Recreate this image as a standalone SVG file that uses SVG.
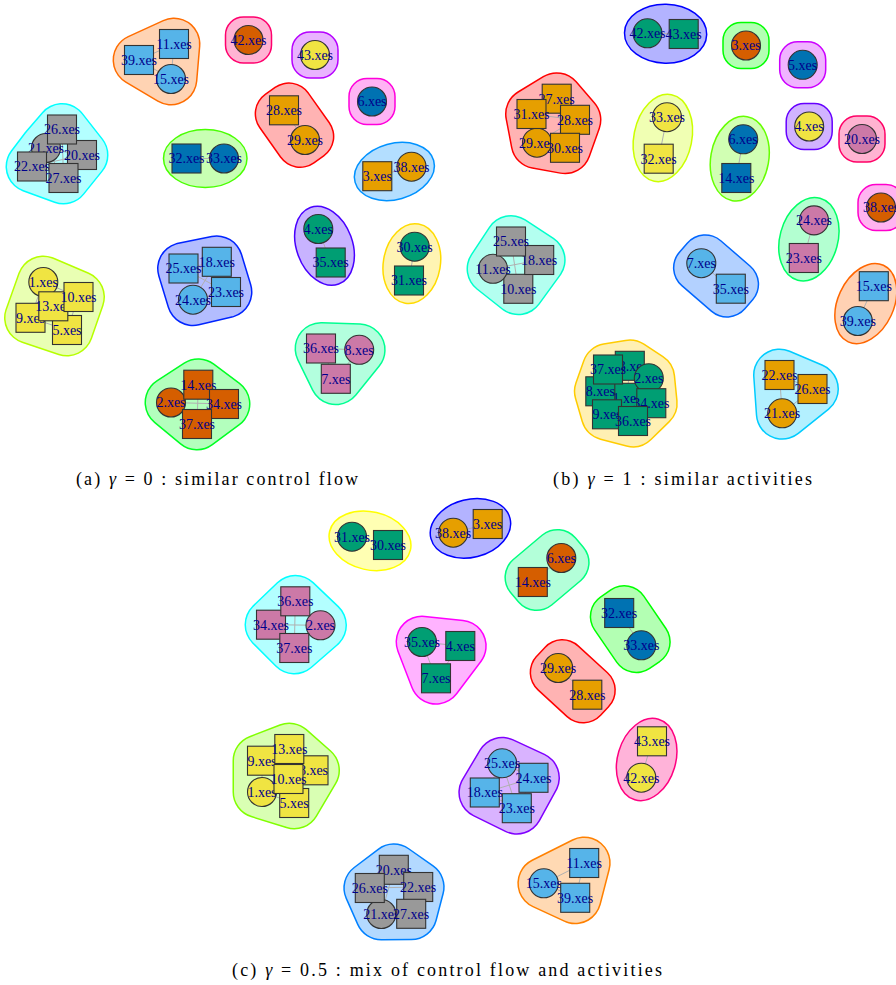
<svg xmlns="http://www.w3.org/2000/svg" width="896" height="985" viewBox="0 0 896 985">
<style>
.hb{stroke-linejoin:round;fill:currentColor;stroke:currentColor}
.w3b{stroke-width:53}.w3f{stroke-width:50}
.w2b{stroke-width:49}.w2f{stroke-width:46}
.h1{stroke-width:1.5}
.sg{stroke-width:1.5;rx:18px;ry:18px}
#connectors line{stroke:#b0b0b0;stroke-width:1}
.node rect,.node circle{stroke:#333;stroke-width:1.1}
.node text{font-family:"Liberation Serif",serif;font-size:14px;fill:#00008B;text-anchor:middle}
.sb{fill:#56B4E9}.or{fill:#E69F00}.gn{fill:#009E73}.ye{fill:#F0E442}.bl{fill:#0072B2}.vm{fill:#D55E00}.rp{fill:#CC79A7}.gy{fill:#999999}
.cap{font-family:"Liberation Serif",serif;font-size:18px;fill:#000}
</style>
<rect width="896" height="985" fill="#fff"/>
<g id="hulls">
<!-- panel a -->
<g id="a-h1"><polygon class="hb w3b" color="#FF6D00" points="139,60 174,44 171,79"/><polygon class="hb w3f" color="#FFD3B3" points="139,60 174,44 171,79"/></g>
<rect id="a-h2" class="sg" x="225.5" y="17" width="46" height="46" rx="18" fill="#FFB3D3" stroke="#FF006D"/>
<rect id="a-h3" class="sg" x="292" y="32" width="46" height="46" rx="18" fill="#E9B3FF" stroke="#B600FF"/>
<g id="a-h4"><polygon class="hb w3b" color="#00FFFF" points="62,129.5 82,155 63.5,178 32,166.5 46,148"/><polygon class="hb w3f" color="#B3FFFF" points="62,129.5 82,155 63.5,178 32,166.5 46,148"/></g>
<ellipse id="a-h5" class="h1" cx="205.25" cy="158.5" rx="41.75" ry="29" fill="#C8FFB3" stroke="#49FF00"/>
<g id="a-h6"><polygon class="hb w2b" color="#FF0000" points="288.9,106.8 309.9,136.5 300.1,143.5 279.1,113.8"/><polygon class="hb w2f" color="#FFB3B3" points="288.9,106.8 309.9,136.5 300.1,143.5 279.1,113.8"/></g>
<rect id="a-h7" class="sg" x="349" y="78.5" width="46" height="46" rx="18" fill="#FFB3F4" stroke="#FF00DB"/>
<ellipse id="a-h8" class="h1" cx="394.4" cy="171.45" rx="40.75" ry="28" transform="rotate(-15.5 394.4 171.45)" fill="#B3DEFF" stroke="#0092FF"/>
<g id="a-h9"><polygon class="hb w3b" color="#B6FF00" points="43.3,282 78.5,297 67,330 30.5,317.8"/><polygon class="hb w3f" color="#E9FFB3" points="43.3,282 78.5,297 67,330 30.5,317.8"/></g>
<g id="a-h10"><polygon class="hb w3b" color="#0024FF" points="183.5,268.5 216.8,261.8 226,292 193,299.7"/><polygon class="hb w3f" color="#B3BDFF" points="183.5,268.5 216.8,261.8 226,292 193,299.7"/></g>
<ellipse id="a-h11" class="h1" cx="324.5" cy="245.75" rx="40.85" ry="28" transform="rotate(69.7 324.5 245.75)" fill="#C8B3FF" stroke="#4900FF"/>
<ellipse id="a-h12" class="h1" cx="411.85" cy="263.6" rx="40.15" ry="28.5" transform="rotate(99.6 411.85 263.6)" fill="#FFF4B3" stroke="#FFDB00"/>
<g id="a-h13"><polygon class="hb w3b" color="#00FF24" points="198.3,384.7 224,404 197,424 171,402.5"/><polygon class="hb w3f" color="#B3FFBD" points="198.3,384.7 224,404 197,424 171,402.5"/></g>
<g id="a-h14"><polygon class="hb w3b" color="#00FF92" points="321,348.5 359.2,349.8 335.8,378.8"/><polygon class="hb w3f" color="#B3FFDE" points="321,348.5 359.2,349.8 335.8,378.8"/></g>
<!-- panel b -->
<ellipse id="b-h1" class="h1" cx="665.6" cy="33.65" rx="41.1" ry="29.5" transform="rotate(1.1 665.6 33.65)" fill="#B3B3FF" stroke="#0000FF"/>
<rect id="b-h2" class="sg" x="723" y="22.5" width="46" height="46" rx="18" fill="#B3FFB3" stroke="#00FF00"/>
<rect id="b-h3" class="sg" x="779.7" y="41.8" width="46" height="46" rx="18" fill="#F0B3FF" stroke="#CC00FF"/>
<g id="b-h4"><polygon class="hb w3b" color="#FF0000" points="556.7,98.7 575,119.8 565,147.8 537,142.7 531.5,114"/><polygon class="hb w3f" color="#FFB3B3" points="556.7,98.7 575,119.8 565,147.8 537,142.7 531.5,114"/></g>
<ellipse id="b-h5" class="h1" cx="662.85" cy="137.95" rx="44.15" ry="29" transform="rotate(101.3 662.85 137.95)" fill="#F0FFB3" stroke="#CCFF00"/>
<ellipse id="b-h6" class="h1" cx="739.75" cy="158.65" rx="42.65" ry="29" transform="rotate(100.1 739.75 158.65)" fill="#D1FFB3" stroke="#66FF00"/>
<rect id="b-h7" class="sg" x="786.2" y="103.5" width="46" height="46" rx="18" fill="#D1B3FF" stroke="#6600FF"/>
<rect id="b-h8" class="sg" x="839" y="116" width="46" height="46" rx="18" fill="#FFB3D1" stroke="#FF0066"/>
<rect id="b-h9" class="sg" x="858" y="184.5" width="46" height="46" rx="18" fill="#FFB3F0" stroke="#FF00CC"/>
<ellipse id="b-h10" class="h1" cx="808.9" cy="239.2" rx="42.5" ry="29" transform="rotate(105.2 808.9 239.2)" fill="#B3FFD1" stroke="#00FF66"/>
<g id="b-h11"><polygon class="hb w3b" color="#00FFCC" points="511,241.5 539.2,260 518.3,288.8 493,268.8"/><polygon class="hb w3f" color="#B3FFF0" points="511,241.5 539.2,260 518.3,288.8 493,268.8"/></g>
<g id="b-h12"><polygon class="hb w2b" color="#0066FF" points="705.2,258.7 734.7,284.2 726.9,293.2 697.4,267.7"/><polygon class="hb w2f" color="#B3D1FF" points="705.2,258.7 734.7,284.2 726.9,293.2 697.4,267.7"/></g>
<ellipse id="b-h13" class="h1" cx="865.8" cy="303.6" rx="42.15" ry="28" transform="rotate(114.7 865.8 303.6)" fill="#FFD1B3" stroke="#FF6600"/>
<g id="b-h14"><polygon class="hb w3b" color="#FFCC00" points="608,369.5 629.8,365.8 648.8,378.2 651.3,403.2 633,421 607,414.3 600.3,391.3"/><polygon class="hb w3f" color="#FFF0B3" points="608,369.5 629.8,365.8 648.8,378.2 651.3,403.2 633,421 607,414.3 600.3,391.3"/></g>
<g id="b-h15"><polygon class="hb w3b" color="#00CCFF" points="779.5,375 812.5,389 782.2,413.3"/><polygon class="hb w3f" color="#B3F0FF" points="779.5,375 812.5,389 782.2,413.3"/></g>
<!-- panel c -->
<ellipse id="c-h1" class="h1" cx="370" cy="540.85" rx="41.45" ry="29" transform="rotate(13 370 540.85)" fill="#FFFFB3" stroke="#FFFF00"/>
<ellipse id="c-h2" class="h1" cx="470.45" cy="528.35" rx="40.8" ry="29" transform="rotate(-14.2 470.45 528.35)" fill="#B3B3FF" stroke="#0000FF"/>
<g id="c-h3"><polygon class="hb w2b" color="#00FF80" points="565.2,562.6 536.7,586.6 528.9,577.4 557.4,553.4"/><polygon class="hb w2f" color="#B3FFD9" points="565.2,562.6 536.7,586.6 528.9,577.4 557.4,553.4"/></g>
<g id="c-h4"><polygon class="hb w2b" color="#00FF00" points="624.2,609.6 646.3,641.9 636.3,648.7 614.2,616.4"/><polygon class="hb w2f" color="#B3FFB3" points="624.2,609.6 646.3,641.9 636.3,648.7 614.2,616.4"/></g>
<g id="c-h5"><polygon class="hb w3b" color="#00FFFF" points="295.3,601.3 320.5,625.3 294.3,648 271,624.7"/><polygon class="hb w3f" color="#B3FFFF" points="295.3,601.3 320.5,625.3 294.3,648 271,624.7"/></g>
<g id="c-h6"><polygon class="hb w3b" color="#FF00FF" points="422,642 460.3,646 436,678.3"/><polygon class="hb w3f" color="#FFB3FF" points="422,642 460.3,646 436,678.3"/></g>
<g id="c-h7"><polygon class="hb w2b" color="#FF0000" points="562.3,663.6 591.4,690.3 583.2,699.1 554.1,672.4"/><polygon class="hb w2f" color="#FFB3B3" points="562.3,663.6 591.4,690.3 583.2,699.1 554.1,672.4"/></g>
<ellipse id="c-h8" class="h1" cx="646.65" cy="759.5" rx="41.95" ry="29" transform="rotate(106.4 646.65 759.5)" fill="#FFB3D9" stroke="#FF0080"/>
<g id="c-h9"><polygon class="hb w3b" color="#80FF00" points="289.3,749 313.5,770.3 294.2,803 259,792 259,760.7"/><polygon class="hb w3f" color="#D9FFB3" points="289.3,749 313.5,770.3 294.2,803 259,792 259,760.7"/></g>
<g id="c-h10"><polygon class="hb w3b" color="#8000FF" points="502.2,763.3 533.5,777.8 516.8,808.2 484.8,792.5"/><polygon class="hb w3f" color="#D9B3FF" points="502.2,763.3 533.5,777.8 516.8,808.2 484.8,792.5"/></g>
<g id="c-h11"><polygon class="hb w3b" color="#0080FF" points="393.8,869.8 418.2,887 411.2,913.8 381.3,914 369.8,888"/><polygon class="hb w3f" color="#B3D9FF" points="393.8,869.8 418.2,887 411.2,913.8 381.3,914 369.8,888"/></g>
<g id="c-h12"><polygon class="hb w3b" color="#FF8000" points="584.2,863 575.2,897.8 543.8,883.3"/><polygon class="hb w3f" color="#FFD9B3" points="584.2,863 575.2,897.8 543.8,883.3"/></g>
</g>
<g id="connectors">
<line x1="139" y1="60" x2="174" y2="44"/><line x1="139" y1="60" x2="171" y2="79"/><line x1="174" y1="44" x2="171" y2="79"/>
<line x1="46" y1="148" x2="82" y2="155"/><line x1="32" y1="166.5" x2="82" y2="155"/><line x1="46" y1="148" x2="63.5" y2="178"/><line x1="62" y1="129.5" x2="63.5" y2="178"/><line x1="62" y1="129.5" x2="32" y2="166.5"/>
<line x1="186.5" y1="158.5" x2="224" y2="158.5"/>
<line x1="284" y1="110.3" x2="305" y2="140"/>
<line x1="377.3" y1="176.2" x2="411.5" y2="166.7"/>
<line x1="43.3" y1="282" x2="78.5" y2="297"/><line x1="30.5" y1="317.8" x2="67" y2="330"/><line x1="78.5" y1="297" x2="67" y2="330"/><line x1="43.3" y1="282" x2="30.5" y2="317.8"/><line x1="53.3" y1="306.3" x2="78.5" y2="297"/><line x1="30.5" y1="317.8" x2="78.5" y2="297"/>
<line x1="183.5" y1="268.5" x2="226" y2="292"/><line x1="216.8" y1="261.8" x2="193" y2="299.7"/><line x1="183.5" y1="268.5" x2="216.8" y2="261.8"/><line x1="193" y1="299.7" x2="226" y2="292"/>
<line x1="318.3" y1="229" x2="330.7" y2="262.5"/>
<line x1="414.7" y1="246.7" x2="409" y2="280.5"/>
<line x1="171" y1="402.5" x2="224" y2="404"/><line x1="198.3" y1="384.7" x2="197" y2="424"/><line x1="171" y1="402.5" x2="198.3" y2="384.7"/><line x1="171" y1="402.5" x2="197" y2="424"/><line x1="224" y1="404" x2="198.3" y2="384.7"/><line x1="224" y1="404" x2="197" y2="424"/>
<line x1="321" y1="348.5" x2="359.2" y2="349.8"/><line x1="321" y1="348.5" x2="335.8" y2="378.8"/><line x1="359.2" y1="349.8" x2="335.8" y2="378.8"/>
<line x1="647.5" y1="33.3" x2="683.7" y2="34"/>
<line x1="531.5" y1="114" x2="575" y2="119.8"/><line x1="537" y1="142.7" x2="575" y2="119.8"/><line x1="556.7" y1="98.7" x2="565" y2="147.8"/><line x1="556.7" y1="98.7" x2="531.5" y2="114"/><line x1="575" y1="119.8" x2="565" y2="147.8"/><line x1="537" y1="142.7" x2="565" y2="147.8"/>
<line x1="667" y1="117.2" x2="658.7" y2="158.7"/>
<line x1="743.2" y1="139.3" x2="736.3" y2="178"/>
<line x1="814" y1="220.4" x2="803.8" y2="258"/>
<line x1="493" y1="268.8" x2="539.2" y2="260"/><line x1="511" y1="241.5" x2="518.3" y2="288.8"/><line x1="511" y1="241.5" x2="493" y2="268.8"/><line x1="511" y1="241.5" x2="539.2" y2="260"/><line x1="493" y1="268.8" x2="518.3" y2="288.8"/><line x1="539.2" y1="260" x2="518.3" y2="288.8"/>
<line x1="701.3" y1="263.2" x2="730.8" y2="288.7"/>
<line x1="873.8" y1="286.2" x2="857.8" y2="321"/>
<line x1="608" y1="369.5" x2="648.8" y2="378.2"/><line x1="629.8" y1="365.8" x2="627" y2="397.8"/><line x1="600.3" y1="391.3" x2="627" y2="397.8"/><line x1="627" y1="397.8" x2="651.3" y2="403.2"/><line x1="607" y1="414.3" x2="633" y2="421"/><line x1="627" y1="397.8" x2="633" y2="421"/>
<line x1="779.5" y1="375" x2="782.2" y2="413.3"/><line x1="812.5" y1="389" x2="782.2" y2="413.3"/><line x1="779.5" y1="375" x2="812.5" y2="389"/>
<line x1="352" y1="536.7" x2="388" y2="545"/>
<line x1="453.2" y1="532.7" x2="487.7" y2="524"/>
<line x1="561.3" y1="558" x2="532.8" y2="582"/>
<line x1="619.2" y1="613" x2="641.3" y2="645.3"/>
<line x1="271" y1="624.7" x2="320.5" y2="625.3"/><line x1="295.3" y1="601.3" x2="294.3" y2="648"/><line x1="295.3" y1="601.3" x2="271" y2="624.7"/><line x1="295.3" y1="601.3" x2="320.5" y2="625.3"/><line x1="271" y1="624.7" x2="294.3" y2="648"/><line x1="320.5" y1="625.3" x2="294.3" y2="648"/>
<line x1="422" y1="642" x2="460.3" y2="646"/><line x1="422" y1="642" x2="436" y2="678.3"/><line x1="460.3" y1="646" x2="436" y2="678.3"/>
<line x1="558.2" y1="668" x2="587.3" y2="694.7"/>
<line x1="652" y1="741.3" x2="641.3" y2="777.7"/>
<line x1="289.3" y1="749" x2="262" y2="760.7"/><line x1="289.3" y1="749" x2="313.5" y2="770.3"/><line x1="262" y1="760.7" x2="288.5" y2="779"/><line x1="313.5" y1="770.3" x2="288.5" y2="779"/><line x1="288.5" y1="779" x2="262" y2="792"/><line x1="288.5" y1="779" x2="294.2" y2="803"/><line x1="262" y1="792" x2="294.2" y2="803"/><line x1="262" y1="760.7" x2="262" y2="792"/>
<line x1="484.8" y1="792.5" x2="533.5" y2="777.8"/><line x1="502.2" y1="763.3" x2="516.8" y2="808.2"/><line x1="502.2" y1="763.3" x2="533.5" y2="777.8"/><line x1="502.2" y1="763.3" x2="484.8" y2="792.5"/><line x1="484.8" y1="792.5" x2="516.8" y2="808.2"/><line x1="533.5" y1="777.8" x2="516.8" y2="808.2"/>
<line x1="369.8" y1="888" x2="418.2" y2="887"/><line x1="393.8" y1="869.8" x2="381.3" y2="914"/><line x1="393.8" y1="869.8" x2="369.8" y2="888"/><line x1="393.8" y1="869.8" x2="418.2" y2="887"/><line x1="369.8" y1="888" x2="381.3" y2="914"/><line x1="418.2" y1="887" x2="411.2" y2="913.8"/><line x1="381.3" y1="914" x2="411.2" y2="913.8"/>
<line x1="543.8" y1="883.3" x2="584.2" y2="863"/><line x1="584.2" y1="863" x2="575.2" y2="897.8"/><line x1="543.8" y1="883.3" x2="575.2" y2="897.8"/>
</g>
<g id="nodes">
<!-- panel a -->
<g id="a-n3" class="node"><rect class="or" x="362.8" y="161.7" width="29" height="29"/><text x="377.3" y="181">3.xes</text></g>
<g id="a-n6" class="node"><circle class="bl" cx="372" cy="101.5" r="14.5"/><text x="372" y="106.3">6.xes</text></g>
<g id="a-n11" class="node"><rect class="sb" x="159.5" y="29.5" width="29" height="29"/><text x="174" y="48.8">11.xes</text></g>
<g id="a-n15" class="node"><circle class="sb" cx="171" cy="79" r="14.5"/><text x="171" y="83.8">15.xes</text></g>
<g id="a-n39" class="node"><rect class="sb" x="124.5" y="45.5" width="29" height="29"/><text x="139" y="64.8">39.xes</text></g>
<g id="a-n38" class="node"><circle class="or" cx="411.5" cy="166.7" r="14.5"/><text x="411.5" y="171.5">38.xes</text></g>
<g id="a-n42" class="node"><circle class="vm" cx="248.5" cy="40" r="14.5"/><text x="248.5" y="44.8">42.xes</text></g>
<g id="a-n43" class="node"><circle class="ye" cx="315" cy="55" r="14.5"/><text x="315" y="59.8">43.xes</text></g>
<g id="a-n20" class="node"><rect class="gy" x="67.5" y="140.5" width="29" height="29"/><text x="82" y="159.8">20.xes</text></g>
<g id="a-n21" class="node"><circle class="gy" cx="46" cy="148" r="14.5"/><text x="46" y="152.8">21.xes</text></g>
<g id="a-n22" class="node"><rect class="gy" x="17.5" y="152" width="29" height="29"/><text x="32" y="171.3">22.xes</text></g>
<g id="a-n26" class="node"><rect class="gy" x="47.5" y="115" width="29" height="29"/><text x="62" y="134.3">26.xes</text></g>
<g id="a-n27" class="node"><rect class="gy" x="49" y="163.5" width="29" height="29"/><text x="63.5" y="182.8">27.xes</text></g>
<g id="a-n32" class="node"><rect class="bl" x="172" y="144" width="29" height="29"/><text x="186.5" y="163.3">32.xes</text></g>
<g id="a-n33" class="node"><circle class="bl" cx="224" cy="158.5" r="14.5"/><text x="224" y="163.3">33.xes</text></g>
<g id="a-n28" class="node"><rect class="or" x="269.5" y="95.8" width="29" height="29"/><text x="284" y="115.1">28.xes</text></g>
<g id="a-n29" class="node"><circle class="or" cx="305" cy="140" r="14.5"/><text x="305" y="144.8">29.xes</text></g>
<g id="a-n1" class="node"><circle class="ye" cx="43.3" cy="282" r="14.5"/><text x="43.3" y="286.8">1.xes</text></g>
<g id="a-n5" class="node"><rect class="ye" x="52.5" y="315.5" width="29" height="29"/><text x="67" y="334.8">5.xes</text></g>
<g id="a-n9" class="node"><rect class="ye" x="16" y="303.3" width="29" height="29"/><text x="30.5" y="322.6">9.xes</text></g>
<g id="a-n13" class="node"><rect class="ye" x="38.8" y="291.8" width="29" height="29"/><text x="53.3" y="311.1">13.xes</text></g>
<g id="a-n10" class="node"><rect class="ye" x="64" y="282.5" width="29" height="29"/><text x="78.5" y="301.8">10.xes</text></g>
<g id="a-n18" class="node"><rect class="sb" x="202.3" y="247.3" width="29" height="29"/><text x="216.8" y="266.6">18.xes</text></g>
<g id="a-n23" class="node"><rect class="sb" x="211.5" y="277.5" width="29" height="29"/><text x="226" y="296.8">23.xes</text></g>
<g id="a-n24" class="node"><circle class="sb" cx="193" cy="299.7" r="14.5"/><text x="193" y="304.5">24.xes</text></g>
<g id="a-n25" class="node"><rect class="sb" x="169" y="254" width="29" height="29"/><text x="183.5" y="273.3">25.xes</text></g>
<g id="a-n4" class="node"><circle class="gn" cx="318.3" cy="229" r="14.5"/><text x="318.3" y="233.8">4.xes</text></g>
<g id="a-n35" class="node"><rect class="gn" x="316.2" y="248" width="29" height="29"/><text x="330.7" y="267.3">35.xes</text></g>
<g id="a-n30" class="node"><circle class="gn" cx="414.7" cy="246.7" r="14.5"/><text x="414.7" y="251.5">30.xes</text></g>
<g id="a-n31" class="node"><rect class="gn" x="394.5" y="266" width="29" height="29"/><text x="409" y="285.3">31.xes</text></g>
<g id="a-n2" class="node"><circle class="vm" cx="171" cy="402.5" r="14.5"/><text x="171" y="407.3">2.xes</text></g>
<g id="a-n14" class="node"><rect class="vm" x="183.8" y="370.2" width="29" height="29"/><text x="198.3" y="389.5">14.xes</text></g>
<g id="a-n34" class="node"><rect class="vm" x="209.5" y="389.5" width="29" height="29"/><text x="224" y="408.8">34.xes</text></g>
<g id="a-n37" class="node"><rect class="vm" x="182.5" y="409.5" width="29" height="29"/><text x="197" y="428.8">37.xes</text></g>
<g id="a-n7" class="node"><rect class="rp" x="321.3" y="364.3" width="29" height="29"/><text x="335.8" y="383.6">7.xes</text></g>
<g id="a-n8" class="node"><circle class="rp" cx="359.2" cy="349.8" r="14.5"/><text x="359.2" y="354.6">8.xes</text></g>
<g id="a-n36" class="node"><rect class="rp" x="306.5" y="334" width="29" height="29"/><text x="321" y="353.3">36.xes</text></g>
<!-- panel b -->
<g id="b-n42" class="node"><circle class="gn" cx="647.5" cy="33.3" r="14.5"/><text x="647.5" y="38.1">42.xes</text></g>
<g id="b-n43" class="node"><rect class="gn" x="669.2" y="19.5" width="29" height="29"/><text x="683.7" y="38.8">43.xes</text></g>
<g id="b-n3" class="node"><circle class="vm" cx="746" cy="45.5" r="14.5"/><text x="746" y="50.3">3.xes</text></g>
<g id="b-n5" class="node"><circle class="bl" cx="802.7" cy="64.8" r="14.5"/><text x="802.7" y="69.6">5.xes</text></g>
<g id="b-n27" class="node"><rect class="or" x="542.2" y="84.2" width="29" height="29"/><text x="556.7" y="103.5">27.xes</text></g>
<g id="b-n28" class="node"><rect class="or" x="560.5" y="105.3" width="29" height="29"/><text x="575" y="124.6">28.xes</text></g>
<g id="b-n29" class="node"><circle class="or" cx="537" cy="142.7" r="14.5"/><text x="537" y="147.5">29.xes</text></g>
<g id="b-n30" class="node"><rect class="or" x="550.5" y="133.3" width="29" height="29"/><text x="565" y="152.6">30.xes</text></g>
<g id="b-n31" class="node"><rect class="or" x="517" y="99.5" width="29" height="29"/><text x="531.5" y="118.8">31.xes</text></g>
<g id="b-n32" class="node"><rect class="ye" x="644.2" y="144.2" width="29" height="29"/><text x="658.7" y="163.5">32.xes</text></g>
<g id="b-n33" class="node"><circle class="ye" cx="667" cy="117.2" r="14.5"/><text x="667" y="122">33.xes</text></g>
<g id="b-n6" class="node"><circle class="bl" cx="743.2" cy="139.3" r="14.5"/><text x="743.2" y="144.1">6.xes</text></g>
<g id="b-n14" class="node"><rect class="bl" x="721.8" y="163.5" width="29" height="29"/><text x="736.3" y="182.8">14.xes</text></g>
<g id="b-n4" class="node"><circle class="ye" cx="809.2" cy="126.5" r="14.5"/><text x="809.2" y="131.3">4.xes</text></g>
<g id="b-n20" class="node"><circle class="rp" cx="862" cy="139" r="14.5"/><text x="862" y="143.8">20.xes</text></g>
<g id="b-n38" class="node"><circle class="vm" cx="881" cy="207.5" r="14.5"/><text x="881" y="212.3">38.xes</text></g>
<g id="b-n23" class="node"><rect class="rp" x="789.3" y="243.5" width="29" height="29"/><text x="803.8" y="262.8">23.xes</text></g>
<g id="b-n24" class="node"><circle class="rp" cx="814" cy="220.4" r="14.5"/><text x="814" y="225.2">24.xes</text></g>
<g id="b-n10" class="node"><rect class="gy" x="503.8" y="274.3" width="29" height="29"/><text x="518.3" y="293.6">10.xes</text></g>
<g id="b-n11" class="node"><circle class="gy" cx="493" cy="268.8" r="14.5"/><text x="493" y="273.6">11.xes</text></g>
<g id="b-n18" class="node"><rect class="gy" x="524.7" y="245.5" width="29" height="29"/><text x="539.2" y="264.8">18.xes</text></g>
<g id="b-n25" class="node"><rect class="gy" x="496.5" y="227" width="29" height="29"/><text x="511" y="246.3">25.xes</text></g>
<g id="b-n7" class="node"><circle class="sb" cx="701.3" cy="263.2" r="14.5"/><text x="701.3" y="268">7.xes</text></g>
<g id="b-n35" class="node"><rect class="sb" x="716.3" y="274.2" width="29" height="29"/><text x="730.8" y="293.5">35.xes</text></g>
<g id="b-n15" class="node"><rect class="sb" x="859.3" y="271.7" width="29" height="29"/><text x="873.8" y="291">15.xes</text></g>
<g id="b-n39" class="node"><circle class="sb" cx="857.8" cy="321" r="14.5"/><text x="857.8" y="325.8">39.xes</text></g>
<g id="b-n1" class="node"><rect class="gn" x="612.5" y="383.3" width="29" height="29"/><text x="627" y="402.6">1.xes</text></g>
<g id="b-n8" class="node"><rect class="gn" x="585.8" y="376.8" width="29" height="29"/><text x="600.3" y="396.1">8.xes</text></g>
<g id="b-n9" class="node"><rect class="gn" x="592.5" y="399.8" width="29" height="29"/><text x="607" y="419.1">9.xes</text></g>
<g id="b-n13" class="node"><rect class="gn" x="615.3" y="351.3" width="29" height="29"/><text x="629.8" y="370.6">13.xes</text></g>
<g id="b-n2" class="node"><circle class="gn" cx="648.8" cy="378.2" r="14.5"/><text x="648.8" y="383">2.xes</text></g>
<g id="b-n34" class="node"><rect class="gn" x="636.8" y="388.7" width="29" height="29"/><text x="651.3" y="408">34.xes</text></g>
<g id="b-n36" class="node"><rect class="gn" x="618.5" y="406.5" width="29" height="29"/><text x="633" y="425.8">36.xes</text></g>
<g id="b-n37" class="node"><rect class="gn" x="593.5" y="355" width="29" height="29"/><text x="608" y="374.3">37.xes</text></g>
<g id="b-n21" class="node"><circle class="or" cx="782.2" cy="413.3" r="14.5"/><text x="782.2" y="418.1">21.xes</text></g>
<g id="b-n22" class="node"><rect class="or" x="765" y="360.5" width="29" height="29"/><text x="779.5" y="379.8">22.xes</text></g>
<g id="b-n26" class="node"><rect class="or" x="798" y="374.5" width="29" height="29"/><text x="812.5" y="393.8">26.xes</text></g>
<!-- panel c -->
<g id="c-n30" class="node"><rect class="gn" x="373.5" y="530.5" width="29" height="29"/><text x="388" y="549.8">30.xes</text></g>
<g id="c-n31" class="node"><circle class="gn" cx="352" cy="536.7" r="14.5"/><text x="352" y="541.5">31.xes</text></g>
<g id="c-n3" class="node"><rect class="or" x="473.2" y="509.5" width="29" height="29"/><text x="487.7" y="528.8">3.xes</text></g>
<g id="c-n38" class="node"><circle class="or" cx="453.2" cy="532.7" r="14.5"/><text x="453.2" y="537.5">38.xes</text></g>
<g id="c-n6" class="node"><circle class="vm" cx="561.3" cy="558" r="14.5"/><text x="561.3" y="562.8">6.xes</text></g>
<g id="c-n14" class="node"><rect class="vm" x="518.3" y="567.5" width="29" height="29"/><text x="532.8" y="586.8">14.xes</text></g>
<g id="c-n32" class="node"><rect class="bl" x="604.7" y="598.5" width="29" height="29"/><text x="619.2" y="617.8">32.xes</text></g>
<g id="c-n33" class="node"><circle class="bl" cx="641.3" cy="645.3" r="14.5"/><text x="641.3" y="650.1">33.xes</text></g>
<g id="c-n2" class="node"><circle class="rp" cx="320.5" cy="625.3" r="14.5"/><text x="320.5" y="630.1">2.xes</text></g>
<g id="c-n34" class="node"><rect class="rp" x="256.5" y="610.2" width="29" height="29"/><text x="271" y="629.5">34.xes</text></g>
<g id="c-n36" class="node"><rect class="rp" x="280.8" y="586.8" width="29" height="29"/><text x="295.3" y="606.1">36.xes</text></g>
<g id="c-n37" class="node"><rect class="rp" x="279.8" y="633.5" width="29" height="29"/><text x="294.3" y="652.8">37.xes</text></g>
<g id="c-n4" class="node"><rect class="gn" x="445.8" y="631.5" width="29" height="29"/><text x="460.3" y="650.8">4.xes</text></g>
<g id="c-n7" class="node"><rect class="gn" x="421.5" y="663.8" width="29" height="29"/><text x="436" y="683.1">7.xes</text></g>
<g id="c-n35" class="node"><circle class="gn" cx="422" cy="642" r="14.5"/><text x="422" y="646.8">35.xes</text></g>
<g id="c-n28" class="node"><rect class="or" x="572.8" y="680.2" width="29" height="29"/><text x="587.3" y="699.5">28.xes</text></g>
<g id="c-n29" class="node"><circle class="or" cx="558.2" cy="668" r="14.5"/><text x="558.2" y="672.8">29.xes</text></g>
<g id="c-n42" class="node"><circle class="ye" cx="641.3" cy="777.7" r="14.5"/><text x="641.3" y="782.5">42.xes</text></g>
<g id="c-n43" class="node"><rect class="ye" x="637.5" y="726.8" width="29" height="29"/><text x="652" y="746.1">43.xes</text></g>
<g id="c-n1" class="node"><circle class="ye" cx="262" cy="792" r="14.5"/><text x="262" y="796.8">1.xes</text></g>
<g id="c-n5" class="node"><rect class="ye" x="279.7" y="788.5" width="29" height="29"/><text x="294.2" y="807.8">5.xes</text></g>
<g id="c-n8" class="node"><rect class="ye" x="299" y="755.8" width="29" height="29"/><text x="313.5" y="775.1">8.xes</text></g>
<g id="c-n9" class="node"><rect class="ye" x="247.5" y="746.2" width="29" height="29"/><text x="262" y="765.5">9.xes</text></g>
<g id="c-n13" class="node"><rect class="ye" x="274.8" y="734.5" width="29" height="29"/><text x="289.3" y="753.8">13.xes</text></g>
<g id="c-n10" class="node"><rect class="ye" x="274" y="764.5" width="29" height="29"/><text x="288.5" y="783.8">10.xes</text></g>
<g id="c-n18" class="node"><rect class="sb" x="470.3" y="778" width="29" height="29"/><text x="484.8" y="797.3">18.xes</text></g>
<g id="c-n23" class="node"><rect class="sb" x="502.3" y="793.7" width="29" height="29"/><text x="516.8" y="813">23.xes</text></g>
<g id="c-n24" class="node"><rect class="sb" x="519" y="763.3" width="29" height="29"/><text x="533.5" y="782.6">24.xes</text></g>
<g id="c-n25" class="node"><circle class="sb" cx="502.2" cy="763.3" r="14.5"/><text x="502.2" y="768.1">25.xes</text></g>
<g id="c-n20" class="node"><rect class="gy" x="379.3" y="855.3" width="29" height="29"/><text x="393.8" y="874.6">20.xes</text></g>
<g id="c-n21" class="node"><circle class="gy" cx="381.3" cy="914" r="14.5"/><text x="381.3" y="918.8">21.xes</text></g>
<g id="c-n22" class="node"><rect class="gy" x="403.7" y="872.5" width="29" height="29"/><text x="418.2" y="891.8">22.xes</text></g>
<g id="c-n26" class="node"><rect class="gy" x="355.3" y="873.5" width="29" height="29"/><text x="369.8" y="892.8">26.xes</text></g>
<g id="c-n27" class="node"><rect class="gy" x="396.7" y="899.3" width="29" height="29"/><text x="411.2" y="918.6">27.xes</text></g>
<g id="c-n11" class="node"><rect class="sb" x="569.7" y="848.5" width="29" height="29"/><text x="584.2" y="867.8">11.xes</text></g>
<g id="c-n15" class="node"><circle class="sb" cx="543.8" cy="883.3" r="14.5"/><text x="543.8" y="888.1">15.xes</text></g>
<g id="c-n39" class="node"><rect class="sb" x="560.7" y="883.3" width="29" height="29"/><text x="575.2" y="902.6">39.xes</text></g>
</g>
<g id="captions">
<text class="cap" x="217" y="485" text-anchor="middle" textLength="282" lengthAdjust="spacing">(a) <tspan font-style="italic">γ</tspan> = 0 : similar control flow</text>
<text class="cap" x="682.5" y="485" text-anchor="middle" textLength="259" lengthAdjust="spacing">(b) <tspan font-style="italic">γ</tspan> = 1 : similar activities</text>
<text class="cap" x="447" y="976" text-anchor="middle" textLength="430" lengthAdjust="spacing">(c) <tspan font-style="italic">γ</tspan> = 0.5 : mix of control flow and activities</text>
</g>
</svg>
